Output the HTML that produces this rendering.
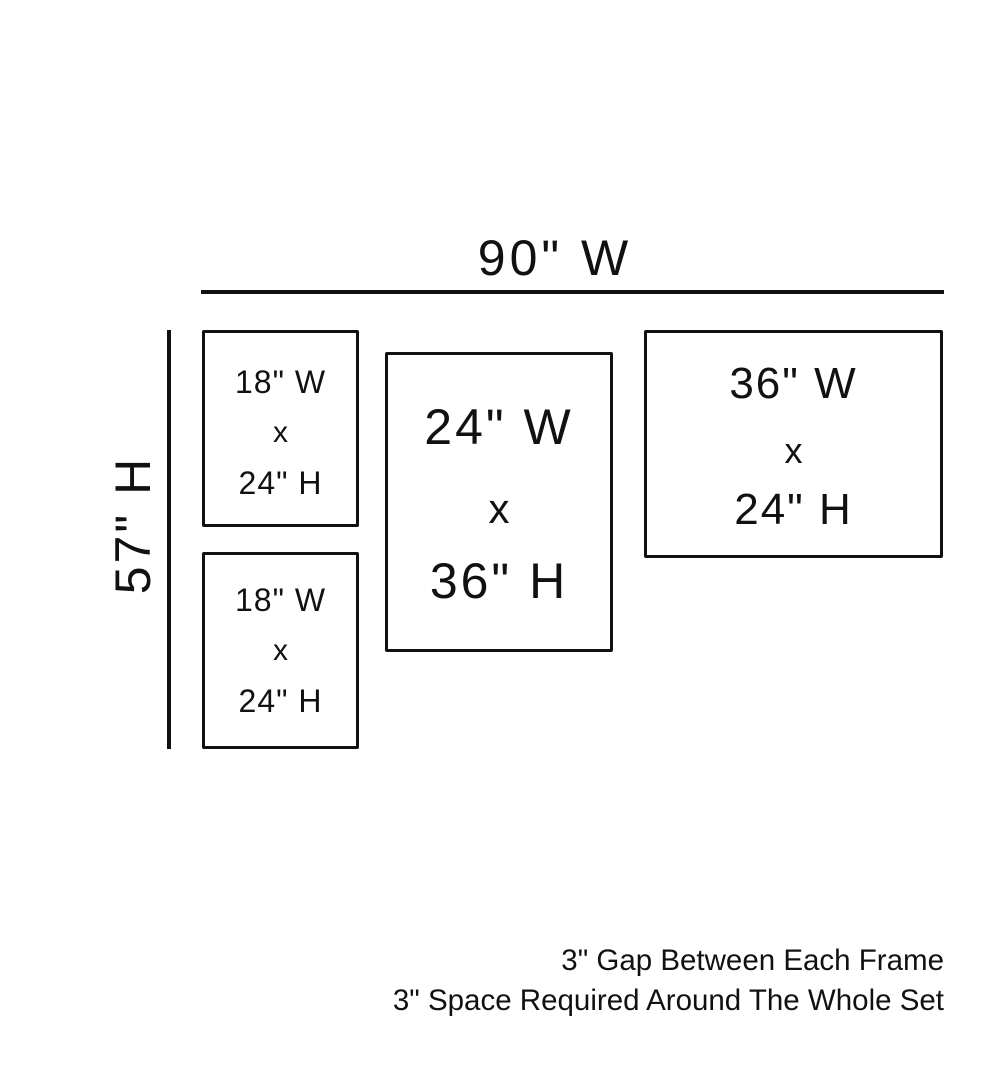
<!DOCTYPE html>
<html><head><meta charset="utf-8"><style>
body{margin:0;width:1000px;height:1081px;background:#fff;position:relative;overflow:hidden;font-family:"Liberation Sans",sans-serif;color:#111}
.b{position:absolute;border:3.5px solid #111;box-sizing:border-box;border-radius:2px}
.t{position:absolute;text-align:center;white-space:nowrap;line-height:1;font-weight:300}
.l{position:absolute;background:#111}
</style></head><body>
<div class="l" style="left:201px;top:290px;width:743px;height:4px"></div>
<div class="l" style="left:167px;top:330px;width:4px;height:419px"></div>
<div class="b" style="left:202px;top:330px;width:157px;height:197px"></div>
<div class="b" style="left:202px;top:552px;width:157px;height:197px"></div>
<div class="b" style="left:385px;top:352px;width:228px;height:300px"></div>
<div class="b" style="left:644px;top:330px;width:299px;height:228px"></div>

<div class="t" style="left:355px;width:400px;top:233px;font-size:50px;letter-spacing:4px">90" W</div>

<div class="t" style="left:202px;width:157px;top:366px;font-size:32px;letter-spacing:1px">18" W</div>
<div class="t" style="left:202px;width:157px;top:418px;font-size:30px">x</div>
<div class="t" style="left:202px;width:157px;top:467px;font-size:32px;letter-spacing:1px">24" H</div>

<div class="t" style="left:202px;width:157px;top:584px;font-size:32px;letter-spacing:1px">18" W</div>
<div class="t" style="left:202px;width:157px;top:636px;font-size:30px">x</div>
<div class="t" style="left:202px;width:157px;top:685px;font-size:32px;letter-spacing:1px">24" H</div>

<div class="t" style="left:385px;width:228px;top:402px;font-size:50px;letter-spacing:3px">24" W</div>
<div class="t" style="left:385px;width:228px;top:488px;font-size:42px">x</div>
<div class="t" style="left:385px;width:228px;top:556px;font-size:50px;letter-spacing:3px">36" H</div>

<div class="t" style="left:644px;width:299px;top:362px;font-size:44px;letter-spacing:2px">36" W</div>
<div class="t" style="left:644px;width:299px;top:433px;font-size:36px">x</div>
<div class="t" style="left:644px;width:299px;top:488px;font-size:44px;letter-spacing:2px">24" H</div>

<div class="t" style="left:33px;width:200px;top:500px;font-size:50px;letter-spacing:3px;transform:rotate(-90deg)">57" H</div>

<div class="t" style="right:56px;top:946px;font-size:29.5px;text-align:right">3" Gap Between Each Frame</div>
<div class="t" style="right:56px;top:986px;font-size:29.5px;text-align:right">3" Space Required Around The Whole Set</div>
</body></html>
